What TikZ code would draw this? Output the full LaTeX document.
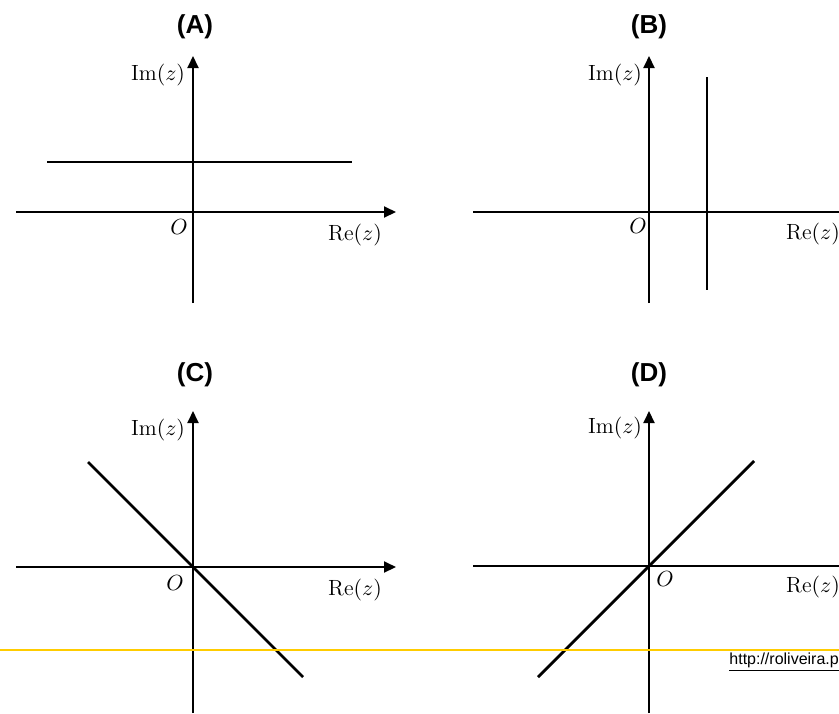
\documentclass[tikz,border=0pt]{standalone}
\usepackage{fontspec}
\newfontfamily\titlefont{Liberation Sans}
\usetikzlibrary{arrows.meta}
\begin{document}
\begin{tikzpicture}[x=0.5pt,y=-0.5pt,
  axis/.style={line width=1pt,-{Triangle[length=6pt,width=5.5pt]}},
  plainaxis/.style={line width=1pt},
  locus/.style={line width=1.4pt},
  paneltitle/.style={font=\titlefont\bfseries\fontsize{13}{15}\selectfont},
  lbl/.style={font=\fontsize{11}{13}\selectfont, inner sep=0pt}]
\useasboundingbox (0,0) rectangle (839,713);
\fill[white] (0,0) rectangle (839,713);
% ---------- (A)
\node[paneltitle] (tA) at (195,27) {(A)};
\coordinate (oA) at (193,212);
\coordinate (xAl) at (16,212);
\coordinate (xAr) at (396,212);
\coordinate (yAb) at (193,303);
\coordinate (yAt) at (193,56);
\draw[axis] (xAl) -- (xAr);
\draw[axis] (yAb) -- (yAt);
\coordinate (lA1) at (47,162);
\coordinate (lA2) at (352,162);
\draw[locus] (lA1) -- (lA2);
\node[lbl] (imA) at (158,75) {$\mathrm{Im}(z)$};
\node[lbl] (OA) at (179,227) {$O$};
\node[lbl] (reA) at (355,235) {$\mathrm{Re}(z)$};
% ---------- (B)
\node[paneltitle] (tB) at (649,27) {(B)};
\coordinate (oB) at (649,212);
\coordinate (xBl) at (473,212);
\coordinate (xBr) at (860,212);
\coordinate (yBb) at (649,303);
\coordinate (yBt) at (649,56);
\draw[plainaxis] (xBl) -- (xBr);
\draw[axis] (yBb) -- (yBt);
\coordinate (lB1) at (707,77);
\coordinate (lB2) at (707,290);
\draw[locus] (lB1) -- (lB2);
\node[lbl] (imB) at (615,75) {$\mathrm{Im}(z)$};
\node[lbl] (OB) at (638,226) {$O$};
\node[lbl] (reB) at (813,234) {$\mathrm{Re}(z)$};
% ---------- (C)
\node[paneltitle] (tC) at (195,375) {(C)};
\coordinate (oC) at (193,567);
\coordinate (xCl) at (16,567);
\coordinate (xCr) at (396,567);
\coordinate (yCb) at (193,713);
\coordinate (yCt) at (193,411);
\draw[axis] (xCl) -- (xCr);
\draw[axis] (yCb) -- (yCt);
\coordinate (lC1) at (88,462);
\coordinate (lC2) at (303,677);
\draw[locus] (lC1) -- (lC2);
\node[lbl] (imC) at (158,430) {$\mathrm{Im}(z)$};
\node[lbl] (OC) at (175,583) {$O$};
\node[lbl] (reC) at (355,590) {$\mathrm{Re}(z)$};
% ---------- (D)
\node[paneltitle] (tD) at (649,375) {(D)};
\coordinate (oD) at (649,566);
\coordinate (xDl) at (473,566);
\coordinate (xDr) at (860,566);
\coordinate (yDb) at (649,713);
\coordinate (yDt) at (649,411);
\draw[plainaxis] (xDl) -- (xDr);
\draw[axis] (yDb) -- (yDt);
\coordinate (lD1) at (538,677);
\coordinate (lD2) at (754,461);
\draw[locus] (lD1) -- (lD2);
\node[lbl] (imD) at (615,428) {$\mathrm{Im}(z)$};
\node[lbl] (OD) at (665,579) {$O$};
\node[lbl] (reD) at (813,587) {$\mathrm{Re}(z)$};
% ---------- footer
\coordinate (fl) at (0,650);
\coordinate (fr) at (839,650);
\draw[line width=1pt, color={rgb,255:red,255;green,204;blue,0}] (fl) -- (fr);
\node[anchor=west, inner sep=0pt, font=\titlefont\fontsize{8}{10}\selectfont] (url) at (729,662) {\underline{http://roliveira.pt}};
\end{tikzpicture}
\end{document}
